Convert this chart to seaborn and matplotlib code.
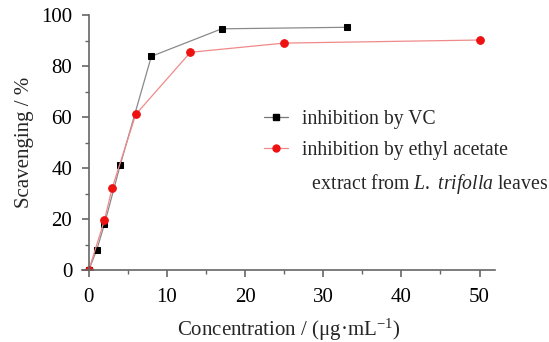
import numpy as np
import pandas as pd
import matplotlib
matplotlib.use("Agg")
import matplotlib.pyplot as plt
import seaborn as sns
from matplotlib.lines import Line2D
from matplotlib.ticker import MultipleLocator

# data
vc_conc = [0, 1, 2, 4, 8, 17, 33]
vc_scav = [0, 7.8, 18.0, 41.0, 83.8, 94.6, 95.2]
ea_conc = [0, 2, 3, 6, 13, 25, 50]
ea_scav = [0, 19.6, 32.3, 61.0, 85.4, 89.0, 90.2]

vc_label = "inhibition by VC"
ea_label = "inhibition by ethyl acetate"
ea_label2 = "  extract from $\\mathit{L.}$ $\\mathit{trifolla}$ leaves"

sns.set_style("ticks")
plt.rcParams['font.family'] = ['Liberation Serif', 'DejaVu Serif']
plt.rcParams['mathtext.fontset'] = 'custom'
plt.rcParams['mathtext.rm'] = 'Liberation Serif'
plt.rcParams['mathtext.it'] = 'Liberation Serif:italic'

df_vc = pd.DataFrame({'conc': vc_conc, 'scav': vc_scav})
df_ea = pd.DataFrame({'conc': ea_conc, 'scav': ea_scav})

fig = plt.figure(figsize=(5.49, 3.42), dpi=100)
ax = fig.add_axes([0.149, 0.2105, 0.753, 0.7455])

sns.lineplot(data=df_vc, x='conc', y='scav', ax=ax, color='#8a8a8a', lw=0.9,
             marker='s', markersize=5, markerfacecolor='black', markeredgecolor='black')
sns.lineplot(data=df_ea, x='conc', y='scav', ax=ax, color='#f08a8a', lw=0.9,
             marker='o', markersize=5.5, markerfacecolor='#ee1111', markeredgecolor='#ee1111')

ax.set_xlim(-0.9, 52)
ax.set_ylim(0, 100)
ax.spines['left'].set_position(('data', 0))
for s in ['top', 'right']:
    ax.spines[s].set_visible(False)
for s in ['left', 'bottom']:
    ax.spines[s].set_color('#666666')
    ax.spines[s].set_linewidth(1.2)

ax.xaxis.set_major_locator(MultipleLocator(10))
ax.xaxis.set_minor_locator(MultipleLocator(5))
ax.yaxis.set_major_locator(MultipleLocator(20))
ax.yaxis.set_minor_locator(MultipleLocator(10))
ax.tick_params(which='both', direction='out', colors='#666666', labelcolor='black', labelsize=15)
ax.tick_params(which='major', length=5, width=1.2)
ax.tick_params(which='minor', length=3, width=1.0)
ax.tick_params(axis='y', which='major', pad=7)
ax.tick_params(axis='x', which='major', pad=8)

ax.set_xlabel("Concentration / (μg·mL$^{-1}$)", fontsize=15, labelpad=7)
ax.set_ylabel("Scavenging / %", fontsize=15, labelpad=5)

handles = [
    Line2D([], [], color='#777777', lw=0.9, marker='s', markersize=4.5,
           markerfacecolor='black', markeredgecolor='black'),
    Line2D([], [], color='#f08a8a', lw=0.9, marker='o', markersize=5,
           markerfacecolor='#ee1111', markeredgecolor='#ee1111'),
    Line2D([], [], alpha=0),
]
ax.legend(handles, [vc_label, ea_label, ea_label2], loc='upper left',
          bbox_to_anchor=(0.44, 0.628), frameon=False, fontsize=14.2,
          handlelength=1.25, handletextpad=0.7, labelspacing=0.6,
          borderaxespad=0, borderpad=0)

fig.savefig("out.png", dpi=100)
